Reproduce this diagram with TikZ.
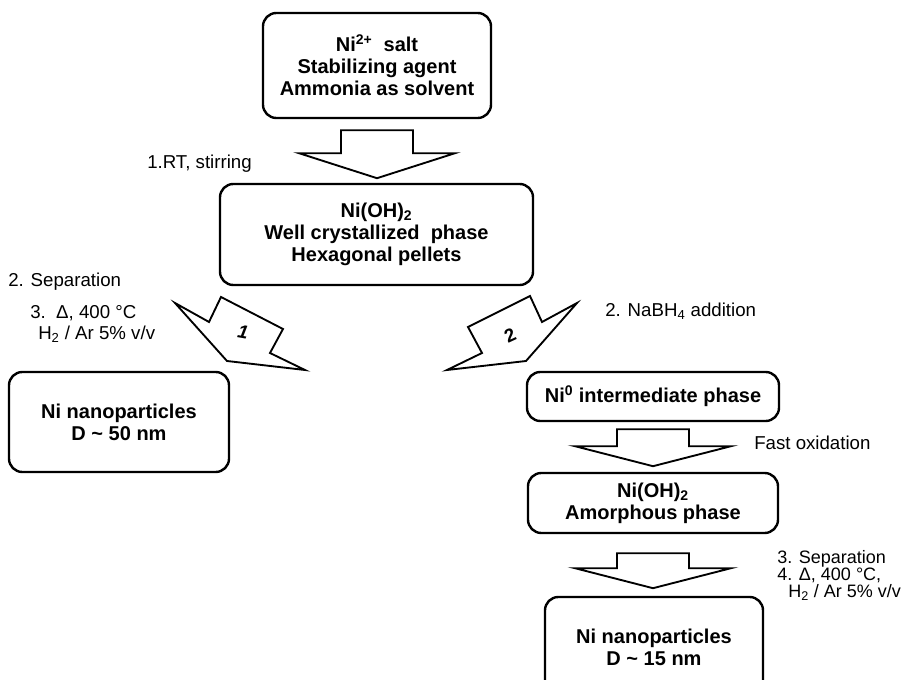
\documentclass[tikz,border=0pt]{standalone}
\usepackage{fontspec}
\setmainfont{Liberation Sans}
\usepackage{tikz}
\usetikzlibrary{calc}

\begin{document}
\begin{tikzpicture}[x=0.75pt, y=-0.75pt,
    box/.style={rectangle, rounded corners=10pt, draw, line width=1.8pt, align=center, inner sep=0pt, font=\bfseries\fontsize{15}{16.5}\selectfont},
    lbl/.style={anchor=base west, inner sep=0pt, font=\fontsize{14}{16}\selectfont},
    blockline/.style={draw, line width=1.4pt, line join=miter, fill=white},
    pics/blockdown/.style 2 args={code={
        \path[blockline] (-36,0) -- (36,0) -- (36,#1) -- (78,#1) -- (0,#2) -- (-78,#1) -- (-36,#1) -- cycle;}}
]
\useasboundingbox (0,0) rectangle (918,680);
\clip (0,0) rectangle (918,680);
\fill[white] (0,0) rectangle (918,680);

% boxes
\node[box, minimum width=171pt, minimum height=78.75pt] (salt) at (377,65.5)
    {Ni\textsuperscript{2+}\ \ salt\\Stabilizing agent\\Ammonia as solvent};
\node[box, minimum width=234.75pt, minimum height=75.75pt] (hydrox) at (376.5,234.5)
    {Ni(OH)\textsubscript{2}\\Well crystallized\ \ phase\\Hexagonal pellets};
\node[box, minimum width=165pt, minimum height=75pt] (nanoA) at (119,422)
    {Ni nanoparticles\\D \textasciitilde\ 50 nm};
\node[box, minimum width=189pt, minimum height=36.75pt] (nizero) at (653,396.5)
    {Ni\textsuperscript{0} intermediate phase};
\node[box, minimum width=187.5pt, minimum height=45pt] (amorph) at (653,503)
    {Ni(OH)\textsubscript{2}\\Amorphous phase};
\node[box, minimum width=163.5pt, minimum height=75pt] (nanoB) at (654,647)
    {Ni nanoparticles\\D \textasciitilde\ 15 nm};

% block arrows
\pic at ($(salt.south)+(0,11)$) {blockdown={23}{48}};
\pic at ($(nizero.south)+(0,7)$) {blockdown={17}{37}};
\pic at ($(amorph.south)+(0,19)$) {blockdown={15}{35}};

\path[blockline] (175,303) -- (209,322) -- (221,297) -- (283,329) -- (270,353) -- (305,370) -- (227,361) -- cycle;
\path[blockline] (577,303) -- (542,322) -- (530,296) -- (468,327) -- (482,353) -- (447,370) -- (526,361) -- cycle;
\node[rotate=-10, font=\bfseries\itshape\fontsize{14}{16}\selectfont] (one) at (243,332) {1};
\node[rotate=25, font=\bfseries\fontsize{14}{16}\selectfont] (two) at (510,335) {2};

% labels
\node[lbl] (stir) at (147,169) {1.RT, stirring};
\node[lbl] (sepA) at (8,286.5) {2. Separation};
\node[lbl] (heatA) at (30,318.5) {3.\ \ Δ, 400 °C};
\node[lbl] (gasA) at (38,339.5) {H\textsubscript{2} / Ar 5\% v/v};
\node[lbl] (nabh) at (605,316.5) {2. NaBH\textsubscript{4} addition};
\node[lbl] (oxid) at (754,449.5) {Fast oxidation};
\node[lbl, font=\fontsize{13.5}{16}\selectfont] (sepB) at (777,564) {3. Separation};
\node[lbl, font=\fontsize{13.5}{16}\selectfont] (heatB) at (777,581) {4. Δ, 400 °C,};
\node[lbl, font=\fontsize{13.5}{16}\selectfont] (gasB) at (788,598) {H\textsubscript{2} / Ar 5\% v/v};

\end{tikzpicture}
\end{document}
